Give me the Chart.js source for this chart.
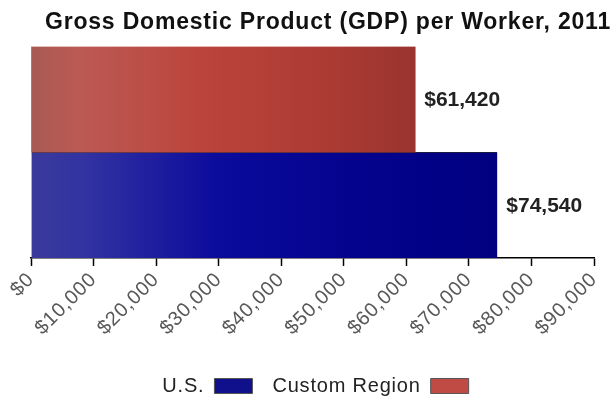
<!DOCTYPE html>
<html>
<head>
<meta charset="utf-8">
<script src="https://cdn.jsdelivr.net/npm/chart.js@4.4.0/dist/chart.umd.min.js"></script>
<style>
  html, body { margin: 0; padding: 0; background: #fff; }
  #wrap { width: 616px; height: 400px; }
</style>
</head>
<body>
<div id="wrap"><canvas id="gdpChart"></canvas></div>
<script>
const categories = ['GDP per Worker'];
const seriesNames = ['Custom Region', 'U.S.'];
const customRegionValues = [61420];
const usValues = [74540];
const xTicks = [0, 10000, 20000, 30000, 40000, 50000, 60000, 70000, 80000, 90000];

const legendColors = { 'U.S.': '#10108c', 'Custom Region': '#c04a44' };
const FONT = '"Liberation Sans", Arial, sans-serif';

const money = v => '$' + Number(v).toLocaleString('en-US');

// horizontal shading like the original bars
function redFill(ctx) {
    const c = ctx.chart;
    const area = c.chartArea;
    if (!area) return '#b8443c';
    const end = c.scales.x.getPixelForValue(customRegionValues[0]);
    const g = c.ctx.createLinearGradient(area.left, 0, end, 0);
    g.addColorStop(0, '#a85a52');
    g.addColorStop(0.12, '#bb5a54');
    g.addColorStop(0.45, '#bb443c');
    g.addColorStop(0.8, '#aa3a33');
    g.addColorStop(1, '#9a342e');
    return g;
}

function blueFill(ctx) {
    const c = ctx.chart;
    const area = c.chartArea;
    if (!area) return '#0a0a9a';
    const end = c.scales.x.getPixelForValue(usValues[0]);
    const g = c.ctx.createLinearGradient(area.left, 0, end, 0);
    g.addColorStop(0, '#3a3a9c');
    g.addColorStop(0.12, '#3232a2');
    g.addColorStop(0.4, '#0b0b9c');
    g.addColorStop(0.7, '#03038e');
    g.addColorStop(1, '#000080');
    return g;
}

// the original text is a bit widely spaced; only for title, axis and legend
const spacing = {
    id: 'spacing',
    beforeLayout(chart) { chart.ctx.letterSpacing = '0.8px'; },
    beforeDraw(chart) { chart.ctx.letterSpacing = '0.8px'; },
    beforeDatasetsDraw(chart) { chart.ctx.letterSpacing = '0px'; },
};

const valueLabels = {
    id: 'valueLabels',
    afterDatasetsDraw(chart) {
        const ctx = chart.ctx;
        ctx.save();
        ctx.letterSpacing = '0px';
        ctx.font = 'bold 21px ' + FONT;
        ctx.fillStyle = '#222';
        ctx.textBaseline = 'middle';
        ctx.textAlign = 'left';
        chart.data.datasets.forEach((ds, i) => {
            chart.getDatasetMeta(i).data.forEach((bar, j) => {
                ctx.fillText(money(ds.data[j]), bar.x + 9, bar.y + 1);
            });
        });
        ctx.restore();
    }
};

new Chart(document.getElementById('gdpChart').getContext('2d'), {
    type: 'bar',
    data: {
        labels: categories,
        datasets: [
            {
                label: seriesNames[0],
                data: customRegionValues,
                backgroundColor: redFill,
                borderWidth: 0,
            },
            {
                label: seriesNames[1],
                data: usValues,
                backgroundColor: blueFill,
                borderColor: '#1a1a40',
                borderWidth: { top: 1, right: 0, bottom: 0, left: 0 },
                borderSkipped: false,
            },
        ],
    },
    options: {
        indexAxis: 'y',
        responsive: true,
        maintainAspectRatio: false,
        animation: false,
        barPercentage: 1,
        categoryPercentage: 1,
        layout: {
            padding: { top: 4, right: 5, bottom: -6, left: 20 },
        },
        scales: {
            y: {
                display: false,
            },
            x: {
                min: 0,
                max: 90000,
                afterBuildTicks: scale => {
                    scale.ticks = xTicks.map(v => ({ value: v }));
                },
                afterFit: scale => {
                    scale.paddingLeft = 31;
                    scale.paddingRight = 22;
                    scale.height += 14;
                },
                border: { display: true, color: '#000', width: 1.5 },
                grid: {
                    drawOnChartArea: false,
                    drawTicks: true,
                    tickLength: 8,
                    color: '#000',
                    tickWidth: 1.5,
                },
                ticks: {
                    minRotation: 45,
                    maxRotation: 45,
                    color: '#585858',
                    padding: 2,
                    font: { family: FONT, size: 20 },
                    callback: v => money(v),
                },
            },
        },
        plugins: {
            title: {
                display: true,
                text: 'Gross Domestic Product (GDP) per Worker, 2011',
                align: 'end',
                color: '#111',
                font: { family: FONT, size: 23, weight: 'bold' },
                padding: { top: 5, bottom: 10 },
            },
            legend: {
                position: 'bottom',
                rtl: true,
                labels: {
                    boxWidth: 38,
                    boxHeight: 15,
                    padding: 20,
                    color: '#222',
                    font: { family: FONT, size: 20 },
                    generateLabels: chart => {
                        const items = Chart.defaults.plugins.legend.labels.generateLabels(chart);
                        return items.map(it => Object.assign(it, {
                            fillStyle: legendColors[it.text],
                            strokeStyle: '#555',
                            lineWidth: 1,
                        }));
                    },
                },
            },
            tooltip: { enabled: false },
        },
    },
    plugins: [spacing, valueLabels],
});
</script>
</body>
</html>
